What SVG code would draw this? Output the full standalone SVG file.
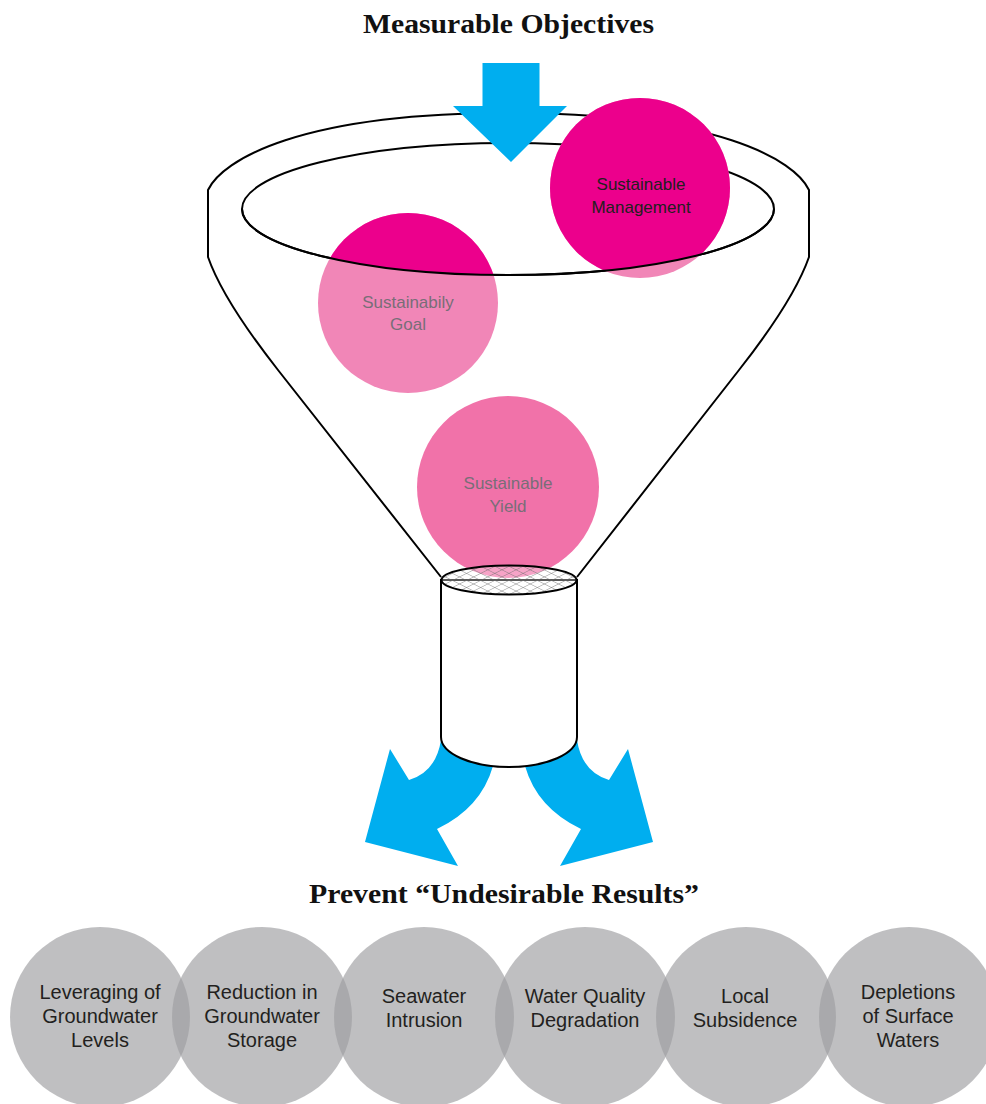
<svg xmlns="http://www.w3.org/2000/svg" width="986" height="1104" viewBox="0 0 986 1104">
  <style>
    .title { font-family: "Liberation Serif", "Times New Roman", serif; font-weight: bold; font-size: 28px; fill: #111111; text-anchor: middle; }
    .line { fill: none; stroke: #000000; stroke-width: 2; }
    .blue { fill: #00AEEF; }
    .pinklabel { font-family: "Liberation Sans", Arial, sans-serif; font-size: 17px; text-anchor: middle; }
    .gray { fill: #9D9EA0; fill-opacity: 0.656; }
    .glabel { font-family: "Liberation Sans", Arial, sans-serif; font-size: 20px; fill: #231F20; text-anchor: middle; }
  </style>
  <defs>
    <clipPath id="topPart">
      <ellipse cx="508" cy="209" rx="266" ry="66"/>
      <rect x="0" y="0" width="986" height="209"/>
    </clipPath>
    <pattern id="mesh" width="10" height="10" patternUnits="userSpaceOnUse" patternTransform="translate(509,580) scale(1,0.5) rotate(45)">
      <path d="M0,0 H10 M0,0 V10" stroke="#6a6a6a" stroke-width="1.2" fill="none"/>
    </pattern>
  </defs>

  <rect x="0" y="0" width="986" height="1104" fill="#FFFFFF"/>

  <text class="title" x="508.5" y="33" textLength="291" lengthAdjust="spacingAndGlyphs">Measurable Objectives</text>

  <g id="funnel">
    <path class="line" d="M441,577 L278,370 Q223,300 208,257 L208,190 C222,160 300,113 508.5,113 C717,113 795,160 809,190 L809,257 Q794,300 739,370 L577,577"/>
    <ellipse class="line" cx="508" cy="209" rx="266" ry="66"/>
  </g>

  <g id="sustainable-management">
    <circle cx="640" cy="188" r="90" fill="#F186B7"/>
    <circle cx="640" cy="188" r="90" fill="#EC008C" clip-path="url(#topPart)"/>
    <text class="pinklabel" x="641" y="190" fill="#231F20">Sustainable</text>
    <text class="pinklabel" x="641" y="213" fill="#231F20">Management</text>
  </g>

  <g id="sustainability-goal">
    <circle cx="408" cy="303" r="90" fill="#F186B7"/>
    <circle cx="408" cy="303" r="90" fill="#EC008C" clip-path="url(#topPart)"/>
    <text class="pinklabel" x="408" y="308" fill="#786E78">Sustainabily</text>
    <text class="pinklabel" x="408" y="330" fill="#786E78">Goal</text>
  </g>

  <path id="rim-front" class="line" d="M242,209 A266,66 0 0 0 774,209"/>

  <g id="sustainable-yield">
    <circle cx="508" cy="487" r="91" fill="#F172A9"/>
    <text class="pinklabel" x="508" y="489" fill="#786E78">Sustainable</text>
    <text class="pinklabel" x="508" y="512" fill="#786E78">Yield</text>
  </g>

  <g id="arrows">
    <polygon class="blue" points="482.5,63 539.5,63 539.5,106 567,106 511,162 453,106 482.5,106"/>
    <path class="blue" d="M441,728 L441,740 Q436,772 409,780 L390,749 L365,842 L458,866 L437,829 Q481,808 493,766 L493,728 Z"/>
    <path class="blue" d="M577,728 L577,740 Q582,772 609,780 L628,749 L653,842 L560,866 L581,829 Q537,808 525,766 L525,728 Z"/>
  </g>

  <g id="neck">
    <path d="M441,580 L441,737 A68,30 0 0 0 577,737 L577,580 Z" fill="#FFFFFF" stroke="#000000" stroke-width="2"/>
    <ellipse cx="509" cy="580" rx="67.5" ry="14.5" fill="#FFFFFF" fill-opacity="0.35"/>
    <ellipse cx="509" cy="580" rx="67.5" ry="14.5" fill="url(#mesh)"/>
    <ellipse class="line" cx="509" cy="580" rx="67.5" ry="14.5"/>
  </g>

  <text class="title" x="504" y="903" textLength="390" lengthAdjust="spacingAndGlyphs">Prevent “Undesirable Results”</text>

  <g id="results">
    <g id="r1">
      <circle class="gray" cx="100" cy="1017" r="90"/>
      <text class="glabel" x="100" y="999">Leveraging of</text>
      <text class="glabel" x="100" y="1023">Groundwater</text>
      <text class="glabel" x="100" y="1047">Levels</text>
    </g>
    <g id="r2">
      <circle class="gray" cx="262" cy="1017" r="90"/>
      <text class="glabel" x="262" y="999">Reduction in</text>
      <text class="glabel" x="262" y="1023">Groundwater</text>
      <text class="glabel" x="262" y="1047">Storage</text>
    </g>
    <g id="r3">
      <circle class="gray" cx="424" cy="1017" r="90"/>
      <text class="glabel" x="424" y="1003">Seawater</text>
      <text class="glabel" x="424" y="1027">Intrusion</text>
    </g>
    <g id="r4">
      <circle class="gray" cx="585" cy="1017" r="90"/>
      <text class="glabel" x="585" y="1003">Water Quality</text>
      <text class="glabel" x="585" y="1027">Degradation</text>
    </g>
    <g id="r5">
      <circle class="gray" cx="746" cy="1017" r="90"/>
      <text class="glabel" x="745" y="1003">Local</text>
      <text class="glabel" x="745" y="1027">Subsidence</text>
    </g>
    <g id="r6">
      <circle class="gray" cx="909" cy="1017" r="90"/>
      <text class="glabel" x="908" y="999">Depletions</text>
      <text class="glabel" x="908" y="1023">of Surface</text>
      <text class="glabel" x="908" y="1047">Waters</text>
    </g>
  </g>
</svg>
